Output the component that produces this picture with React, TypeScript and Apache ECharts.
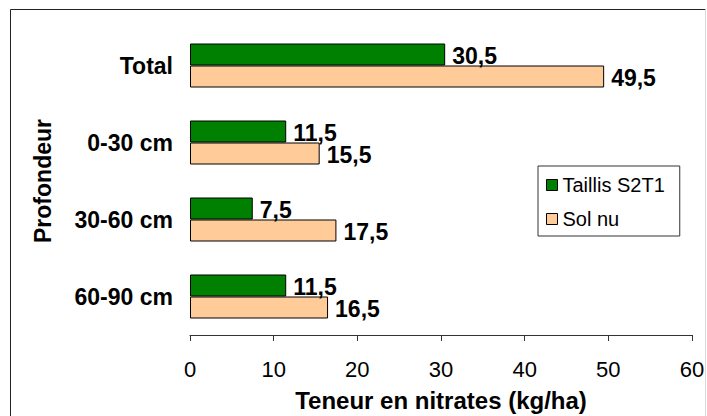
import React, { useEffect, useRef } from "react";
import * as echarts from "echarts";

// Depth classes, top to bottom
const categories: string[] = ["Total", "0-30 cm", "30-60 cm", "60-90 cm"];
// Nitrate content (kg/ha)
const taillis: number[] = [30.5, 11.5, 7.5, 11.5];
const solNu: number[] = [49.5, 15.5, 17.5, 16.5];
const xTicks: number[] = [0, 10, 20, 30, 40, 50, 60];

const FONT = "'Liberation Sans', Arial, Helvetica, sans-serif";

const fmt = (v: number) => v.toFixed(1).replace(".", ",");

export default function App() {
  const ref = useRef<HTMLDivElement>(null);

  useEffect(() => {
    if (!ref.current) return;
    const chart = echarts.init(ref.current, undefined, { renderer: "svg" });

    const valueLabel = {
      show: true,
      position: "right" as const,
      distance: 7,
      offset: [0, 1.5],
      color: "#000",
      fontFamily: FONT,
      fontWeight: "bold" as const,
      fontSize: 23,
      formatter: (p: any) => fmt(p.value),
    };

    chart.setOption({
      animation: false,
      backgroundColor: "#fff",
      textStyle: { fontFamily: FONT },
      graphic: [
        {
          type: "line",
          shape: { x1: 10.5, y1: 9.5, x2: 705.5, y2: 9.5 },
          style: { stroke: "#222", lineWidth: 1 },
          silent: true,
        },
        {
          type: "line",
          shape: { x1: 10.5, y1: 9.5, x2: 10.5, y2: 420 },
          style: { stroke: "#222", lineWidth: 1 },
          silent: true,
        },
        {
          type: "line",
          shape: { x1: 705.5, y1: 9.5, x2: 705.5, y2: 420 },
          style: { stroke: "#d8d8d8", lineWidth: 1 },
          silent: true,
        },
      ],
      grid: {
        left: 190,
        right: 15,
        top: 27,
        bottom: 81,
        containLabel: false,
        outerBoundsMode: "none",
      },
      legend: {
        orient: "vertical",
        left: 538,
        top: 166,
        padding: [9, 15, 7, 8],
        itemGap: 14,
        itemWidth: 11,
        itemHeight: 11,
        itemTextGap: 9,
        borderColor: "#333",
        borderWidth: 1,
        icon: "rect",
        itemStyle: { borderColor: "#000", borderWidth: 1 },
        textStyle: { fontFamily: FONT, fontSize: 20, color: "#000", lineHeight: 20 },
        data: ["Taillis S2T1", "Sol nu"],
      },
      xAxis: {
        type: "value",
        min: xTicks[0],
        max: xTicks[xTicks.length - 1],
        interval: 10,
        name: "Teneur en nitrates (kg/ha)",
        nameLocation: "middle",
        nameGap: 53,
        nameTextStyle: {
          fontFamily: FONT,
          fontWeight: "bold",
          fontSize: 24,
          color: "#000",
        },
        axisLine: { show: true, lineStyle: { color: "#333", width: 1 } },
        axisTick: { show: true, length: 6, lineStyle: { color: "#333", width: 1 } },
        axisLabel: {
          margin: 23,
          fontFamily: FONT,
          fontSize: 22,
          color: "#000",
        },
        splitLine: { show: false },
      },
      yAxis: {
        type: "category",
        inverse: true,
        data: categories,
        name: "Profondeur",
        nameLocation: "middle",
        nameGap: 136,
        nameRotate: 90,
        nameTextStyle: {
          fontFamily: FONT,
          fontWeight: "bold",
          fontSize: 23,
          color: "#000",
        },
        axisLine: { show: false },
        axisTick: { show: false },
        axisLabel: {
          margin: 17,
          fontFamily: FONT,
          fontWeight: "bold",
          fontSize: 23,
          color: "#000",
        },
        splitLine: { show: false },
      },
      series: [
        {
          name: "Taillis S2T1",
          type: "bar",
          data: taillis,
          barWidth: 22,
          barGap: "0%",
          itemStyle: { color: "#008000", borderColor: "#000", borderWidth: 1 },
          label: valueLabel,
        },
        {
          name: "Sol nu",
          type: "bar",
          data: solNu,
          barWidth: 22,
          barGap: "0%",
          itemStyle: { color: "#FFCC99", borderColor: "#000", borderWidth: 1 },
          label: valueLabel,
        },
      ],
    });

    return () => chart.dispose();
  }, []);

  return (
    <div
      ref={ref}
      style={{ position: "fixed", left: 0, top: 0, width: 707, height: 416 }}
    />
  );
}
